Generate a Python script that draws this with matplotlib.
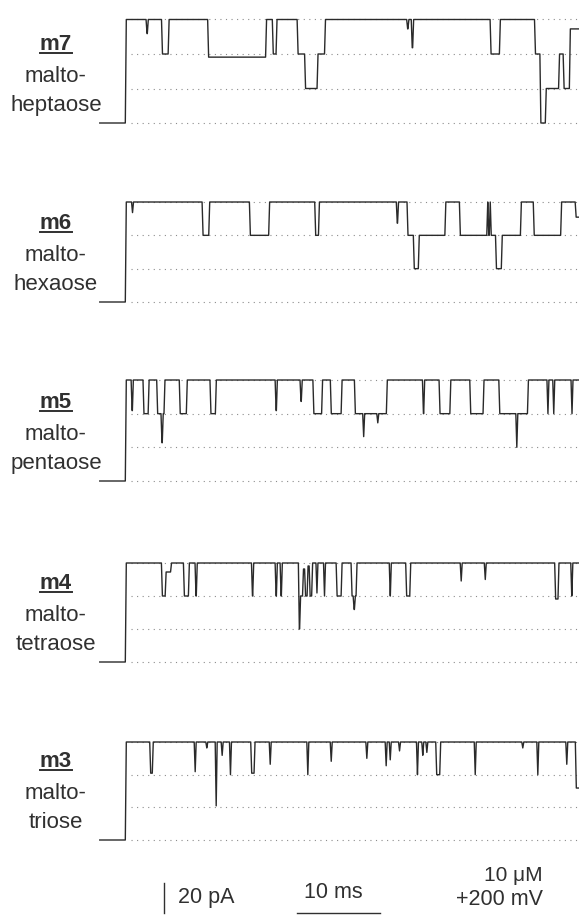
import matplotlib
matplotlib.use("Agg")
import matplotlib.pyplot as plt
from matplotlib.lines import Line2D

plt.rcParams['font.family'] = ['Liberation Sans', 'DejaVu Sans']

# one trace per sugar: time (ms) where a level starts, and the current (pA) it holds
names = ['m7', 'm6', 'm5', 'm4', 'm3']
sugars = ['heptaose', 'hexaose', 'pentaose', 'tetraose', 'triose']
levels_pa = [0, 22, 44, 66]
t_end = 54.6

m7_t = [-3.2, 0, 2.5, 2.65, 4.36, 5.16, 9.92, 16.9, 17.71, 18.16, 20.7, 21.6, 23.1, 24.0,
        33.9, 34.05, 34.45, 34.62, 43.95, 45.07, 49.3, 49.95, 50.6, 52.2, 52.75, 53.5]
m7_i = [0, 66, 57, 66, 44, 66, 42, 66, 44, 66, 44, 22, 44, 66,
        60, 66, 48, 66, 44, 66, 44, 0, 22, 44, 22, 60]

m6_t = [-3.2, 0, 0.75, 0.87, 9.25, 10.05, 14.95, 17.27, 22.82, 23.27, 32.65, 32.8, 33.94, 34.7,
        35.3, 38.5, 40.25, 43.55, 43.67, 43.85, 43.97, 44.6, 45.3, 47.6, 49.15, 52.45, 54.2]
m6_i = [0, 66, 59, 66, 44, 66, 44, 66, 44, 66, 52, 66, 44, 22,
        44, 66, 44, 66, 44, 66, 44, 22, 44, 66, 44, 66, 56]

m5_t = [-3.2, 0, 0.7, 0.85, 2.13, 2.75, 3.78, 4.3, 4.45, 4.66, 6.5, 7.35, 10.2, 10.85,
        18.05, 18.2, 21.05, 21.2, 22.6, 23.65, 24.7, 26.0, 27.6, 28.6, 28.72, 30.3, 30.42, 31.45,
        35.8, 35.95, 37.8, 39.1, 41.5, 43.1, 45.0, 47.05, 47.17, 48.45, 50.8, 50.92, 51.5, 51.62,
        53.7, 53.82]
m5_i = [0, 66, 46, 66, 44, 66, 44, 25, 44, 66, 44, 66, 44, 66,
        46, 66, 52, 66, 44, 66, 44, 66, 44, 29, 44, 38, 44, 66,
        44, 66, 44, 66, 44, 66, 44, 22, 44, 66, 44, 66, 44, 66,
        44, 66]

m4_t = [-3.2, 0, 4.35, 4.8, 5.45, 7.0, 7.6, 8.4, 8.55, 15.2, 15.35, 18.05, 18.2, 18.65, 18.8,
        20.85, 21.0, 21.35, 21.6, 21.9, 22.15, 22.45, 22.97, 23.09, 23.88, 24.0, 25.4, 26.0,
        27.2, 27.45, 27.6, 27.8, 31.8, 31.93, 33.78, 34.27, 40.35, 40.47, 43.25, 43.37,
        51.73, 52.13, 53.67, 53.8]
m4_i = [0, 66, 44, 60, 66, 44, 66, 44, 66, 44, 66, 44, 66, 44, 66,
        22, 44, 62, 44, 64, 44, 66, 46, 66, 44, 66, 44, 66,
        44, 35, 44, 66, 44, 66, 44, 66, 54, 66, 55, 66,
        42, 66, 44, 66]

m3_t = [-3.2, 0, 2.94, 3.25, 8.3, 8.42, 9.7, 9.82, 10.83, 10.95, 11.55, 11.67, 12.55, 12.67,
        15.11, 15.51, 17.34, 17.46, 21.87, 21.99, 24.69, 24.81, 28.98, 29.1, 31.31, 31.43,
        31.8, 31.92, 32.92, 33.04, 35.08, 35.2, 35.72, 35.84, 36.21, 36.33, 37.4, 37.88,
        42.04, 42.16, 47.77, 47.89, 49.58, 49.7, 53.07, 53.19, 54.22]
m3_i = [0, 66, 45, 66, 46, 66, 62, 66, 23, 66, 57, 66, 44, 66,
        45, 66, 51, 66, 44, 66, 53, 66, 55, 66, 50, 66,
        54, 66, 60, 66, 44, 66, 57, 66, 59, 66, 44, 66,
        44, 66, 62, 66, 44, 66, 51, 66, 35]

traces = [(m7_t, m7_i), (m6_t, m6_i), (m5_t, m5_i), (m4_t, m4_i), (m3_t, m3_i)]

# layout in pixels: (open level y, zero level y) for each panel
W, H = 579, 915
panel_px = [(19.5, 123), (202, 302), (380, 481), (563, 662), (742, 840)]
x0_px, px_per_ms = 126.3, 8.3
ink = '#303030'


def trace_xy(t, i, ramp=0.12):
    xs, ys = [], []
    stops = list(t[1:]) + [t_end]
    for start, stop, level in zip(t, stops, i):
        xs.append(start)
        ys.append(level)
        if stop - ramp > start:
            xs.append(stop - ramp)
            ys.append(level)
    return xs, ys


fig = plt.figure(figsize=(W / 100, H / 100), dpi=100)
renderer = fig.canvas.get_renderer()
xlim = (-x0_px / px_per_ms, (W - x0_px) / px_per_ms)

axes = []
for k, (t, cur) in enumerate(traces):
    top, base = panel_px[k]
    s = 66 / (base - top)
    ax = fig.add_axes([0, 0, 1, 1])
    ax.set_xlim(xlim)
    ax.set_ylim(-(H - base) * s, base * s)
    ax.axis('off')
    ax.hlines(levels_pa, 0.6, xlim[1], colors='#8c8c8c',
              linestyles=(0, (1, 4)), linewidth=0.8)
    xs, ys = trace_xy(t, cur)
    ax.plot(xs, ys, color='#2a2a2a', linewidth=1.0)
    axes.append(ax)

    cx = 56 / W
    lab = fig.text(cx, 1 - (base - 73) / H, names[k], ha='center', va='baseline',
                   fontsize=16, fontweight='bold', color=ink)
    fig.text(cx, 1 - (base - 41) / H, 'malto-', ha='center', va='baseline',
             fontsize=16, color=ink)
    fig.text(cx, 1 - (base - 12) / H, sugars[k], ha='center', va='baseline',
             fontsize=16, color=ink)
    bb = lab.get_window_extent(renderer)
    uy = 1 - (base - 70) / H
    fig.add_artist(Line2D([bb.x0 / W, bb.x1 / W], [uy, uy], color=ink,
                          linewidth=1.4, transform=fig.transFigure))

# scale bars, drawn with the bottom panel's scales
ax = axes[-1]
top, base = panel_px[-1]
s = 66 / (base - top)
bar_y = -(913 - base) * s
bar_t = (164 - x0_px) / px_per_ms
ax.plot([bar_t, bar_t], [bar_y, bar_y + 20], color=ink, linewidth=1.0, clip_on=False)
ms_t = (297 - x0_px) / px_per_ms
ax.plot([ms_t, ms_t + 10], [bar_y, bar_y], color=ink, linewidth=1.0, clip_on=False)

fig.text(178 / W, 1 - 903 / H, '20 pA', ha='left', va='baseline', fontsize=15.5, color=ink)
fig.text(333 / W, 1 - 898 / H, '10 ms', ha='center', va='baseline', fontsize=15.5, color=ink)
fig.text(543 / W, 1 - 881 / H, '10 \u03bcM', ha='right', va='baseline', fontsize=15, color=ink)
fig.text(543 / W, 1 - 905 / H, '+200 mV', ha='right', va='baseline', fontsize=15.5, color=ink)

fig.savefig('out.png', dpi=100)
